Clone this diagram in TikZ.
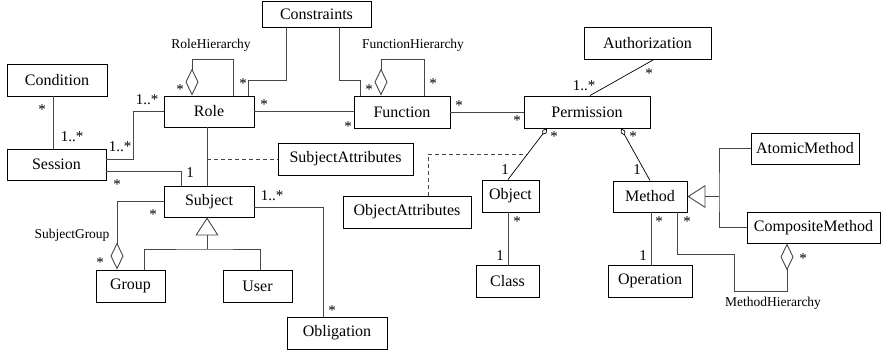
\documentclass[tikz,border=0pt]{standalone}
\usepackage{fontspec}
\setmainfont{Liberation Serif}
\usetikzlibrary{arrows.meta,calc}
\begin{document}
\begin{tikzpicture}[x=1pt,y=-1pt,
  box/.style={draw=black,line width=0.9pt,inner sep=0pt,font=\fontsize{16}{16}\selectfont},
  conn/.style={draw=black!72,line width=0.9pt},
  diag/.style={draw=black,line width=0.7pt},
  mult/.style={inner sep=0pt,font=\fontsize{15}{15}\selectfont},
  st/.style={mult,yshift=-2pt},
  hlabel/.style={inner sep=0pt,font=\fontsize{13.5}{13.5}\selectfont},
  agg/.style={{Diamond[open,length=27pt,width=13pt]}-},
  sagg/.style={{Diamond[open,length=8pt,width=5pt]}-},
  gen/.style={-{Triangle[open,length=18pt,width=23pt]}},
  dsh/.style={dash pattern=on 4pt off 3pt}
]
\useasboundingbox (0,0) rectangle (881,353);

% boxes
\node[box,minimum width=109pt,minimum height=26pt] (Constraints) at (316.5,14) {Constraints};
\node[box,minimum width=100pt,minimum height=32pt] (Condition) at (57,80) {Condition};
\node[box,minimum width=90pt,minimum height=31pt] (Role) at (209,111.5) {Role};
\node[box,minimum width=96pt,minimum height=32pt] (Function) at (402,112) {Function};
\node[box,minimum width=126pt,minimum height=32pt] (Permission) at (587,112) {Permission};
\node[box,minimum width=127pt,minimum height=32pt] (Authorization) at (647.5,43) {Authorization};
\node[box,minimum width=99pt,minimum height=31pt] (Session) at (56.5,164.5) {Session};
\node[box,minimum width=135pt,minimum height=32pt] (SubjectAttributes) at (345.5,159) {SubjectAttributes};
\node[box,minimum width=90pt,minimum height=31pt] (Subject) at (209,201.5) {Subject};
\node[box,minimum width=128pt,minimum height=32pt] (ObjectAttributes) at (407,212) {ObjectAttributes};
\node[box,minimum width=57pt,minimum height=32pt] (Object) at (510.5,196) {Object};
\node[box,minimum width=74pt,minimum height=31pt] (Method) at (650,196.5) {Method};
\node[box,minimum width=108pt,minimum height=31pt] (AtomicMethod) at (805,148.5) {AtomicMethod};
\node[box,minimum width=133pt,minimum height=31pt] (CompositeMethod) at (813.5,227.5) {CompositeMethod};
\node[box,minimum width=69pt,minimum height=32pt] (Group) at (130.5,286) {Group};
\node[box,minimum width=69pt,minimum height=32pt] (User) at (257.5,286) {User};
\node[box,minimum width=63pt,minimum height=32pt] (Class) at (507.5,281) {Class};
\node[box,minimum width=84pt,minimum height=32pt] (Operation) at (650,281) {Operation};
\node[box,minimum width=100pt,minimum height=32pt] (Obligation) at (337,333) {Obligation};

% junction coordinates
\coordinate (sadot) at (207,159);
\coordinate (mj) at (719,196.5);
\coordinate (sj) at (207,249);

% connectors
\draw[conn] (Condition.south -| 53,0) -- (Session.north -| 53,0);
\draw[conn] (Session.east |- 0,159) -- (133,159) -- (133,111.5) -- (Role.west);
\draw[conn] (Session.east |- 0,171) -- (181,171) -- (Subject.north -| 181,0);
\draw[conn] (Role.south -| 207,0) -- (Subject.north -| 207,0);
\draw[conn,dsh] (sadot) -- (SubjectAttributes.west);
\draw[conn,agg] (Role.north -| 192,0) -- (192,59) -- (233,59) -- (Role.north -| 233,0);
\draw[conn] (Role.north -| 248,0) -- (248,80) -- (286,80) -- (Constraints.south -| 286,0);
\draw[conn] (Role.east) -- (Function.west |- Role.east);
\draw[conn] (Constraints.south -| 339,0) -- (339,80) -- (360,80) -- (Function.north -| 360,0);
\draw[conn,agg] (Function.north -| 381,0) -- (381,59) -- (424,59) -- (Function.north -| 424,0);
\draw[conn] (Function.east) -- (Permission.west |- Function.east);
\draw[diag] (Authorization.south -| 654,0) -- (Permission.north -| 590,0);
\draw[diag,sagg] (Permission.south -| 547,0) -- (Object.north -| 508,0);
\coordinate (oamid) at ($(Permission.south -| 547,0)!0.5!(Object.north -| 508,0)$);
\draw[conn,dsh] (ObjectAttributes.north -| 428,0) |- (oamid);
\draw[diag,sagg] (Permission.south -| 621,0) -- (Method.north -| 650,0);
\draw[conn] (Object.south -| 508,0) -- (Class.north -| 508,0);
\draw[conn,gen] (mj) -- (Method.east);
\draw[conn] (AtomicMethod.west) -| (mj) |- (CompositeMethod.west);
\draw[conn] (Method.south -| 651,0) -- (Operation.north -| 651,0);
\draw[conn,agg] (CompositeMethod.south -| 787,0) -- (787,291) -- (734,291) -- (734,254) -- (677,254) -- (Method.south -| 677,0);
\draw[conn,gen] (sj) -- (Subject.south -| 207,0);
\draw[conn] (Group.north -| 144,0) |- (sj) -| (User.north -| 260,0);
\draw[conn,agg] (Group.north -| 117,0) -- (117,201.5) -- (Subject.west);
\draw[conn] (Subject.east |- 0,207) -- (323,207) -- (Obligation.north -| 323,0);

% multiplicities
\node[st] (m1) at (42,108) {*};
\node[mult] (m2) at (72,137) {1..*};
\node[mult] (m3) at (147,100) {1..*};
\node[mult] (m4) at (120,147) {1..*};
\node[mult] (m5) at (190,173) {1};
\node[st] (m6) at (117,183) {*};
\node[st] (m7) at (180,88) {*};
\node[st] (m8) at (243,82) {*};
\node[st] (m9) at (264,103) {*};
\node[st] (m10) at (348,125) {*};
\node[st] (m11) at (369,88) {*};
\node[st] (m12) at (433,82) {*};
\node[st] (m13) at (459,104) {*};
\node[st] (m14) at (517,119) {*};
\node[st] (m15) at (649,72) {*};
\node[mult] (m16) at (584,86) {1..*};
\node[st] (m17) at (554,135) {*};
\node[mult] (m18) at (505,170) {1};
\node[st] (m19) at (633,135) {*};
\node[mult] (m20) at (637,170) {1};
\node[st] (m21) at (517,220) {*};
\node[mult] (m22) at (500,256) {1};
\node[st] (m23) at (659,220) {*};
\node[mult] (m24) at (643,256) {1};
\node[st] (m25) at (687,220) {*};
\node[st] (m26) at (803,257) {*};
\node[st] (m27) at (153,213) {*};
\node[st] (m28) at (100,261) {*};
\node[mult] (m29) at (272,196) {1..*};
\node[st] (m30) at (332,309) {*};

% association names
\node[hlabel] (lrh) at (211,45) {RoleHierarchy};
\node[hlabel] (lfh) at (413,45) {FunctionHierarchy};
\node[hlabel] (lsg) at (72,235) {SubjectGroup};
\node[hlabel] (lmh) at (773,303) {MethodHierarchy};
\end{tikzpicture}
\end{document}
